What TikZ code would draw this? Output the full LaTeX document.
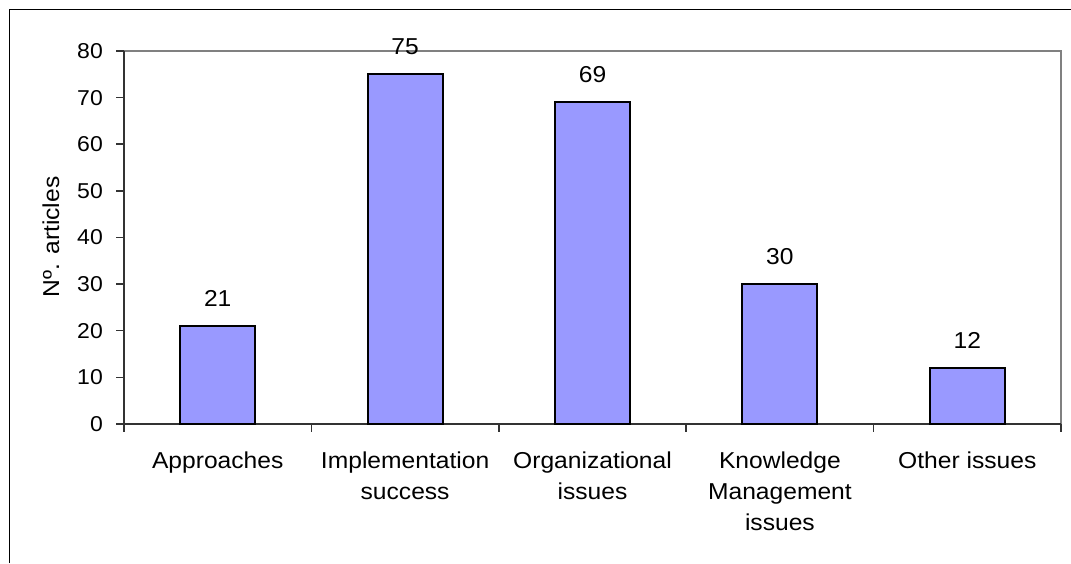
\documentclass[tikz,border=0pt]{standalone}
\usepackage{fontspec}
\setmainfont{Liberation Sans}[FakeStretch=1.07]
\usetikzlibrary{positioning}
\definecolor{barblue}{HTML}{9999FF}
\tikzset{
  bar/.style={draw=black, line width=2pt, fill=barblue},
  axis/.style={draw=black!80, line width=1.5pt},
  plotframe/.style={draw=black!50, line width=2pt},
  outerframe/.style={draw=black, line width=1.3pt},
  label/.style={font=\fontsize{23}{31}\selectfont, inner sep=0pt},
  ticklabel/.style={font=\fontsize{21.5}{26}\selectfont, inner sep=0pt}
}

\begin{document}
\begin{tikzpicture}[x=1pt,y=1pt]
  \useasboundingbox (0,0) rectangle (1071,563);
  % outer frame (only left and top show)
  \draw[outerframe] (9.5,0) -- (9.5,553.5) -- (1071,553.5);

  \begin{scope}[shift={(124,139)}]
    \draw[plotframe] (0,373) -- (937,373) -- (937,0);
    \draw[axis] (0,373) -- (0,0) -- (937,0);
    % value axis
    \foreach \v in {0,10,...,80} {
      \draw[axis] (-8,\v*4.6625) -- (0,\v*4.6625);
      \node[ticklabel, anchor=east] (y\v) at (-21,\v*4.6625) {\v};
    }
    \node[label, rotate=90] (ytitle) at (-73,187) {Nº. articles};
    % category axis
    \foreach \i in {0,...,5}
      \draw[axis] (\i*187.4,0) -- (\i*187.4,-8);
    % bars
    \foreach \i/\val/\nm/\lab in {0/21/appr/Approaches,
                                  1/75/impl/{Implementation\\success},
                                  2/69/org/{Organizational\\issues},
                                  3/30/km/{Knowledge\\Management\\issues},
                                  4/12/oth/{Other issues}} {
      \draw[bar] (\i*187.4+56.2,0) rectangle (\i*187.4+131.2,\val*4.6625);
      \node[label, anchor=south] (v\nm) at (\i*187.4+93.7,\val*4.6625+19) {\val};
      \node[label, anchor=north, align=center] (c\nm) at (\i*187.4+93.7,-27.5) {\lab};
    }
  \end{scope}
\end{tikzpicture}
\end{document}
